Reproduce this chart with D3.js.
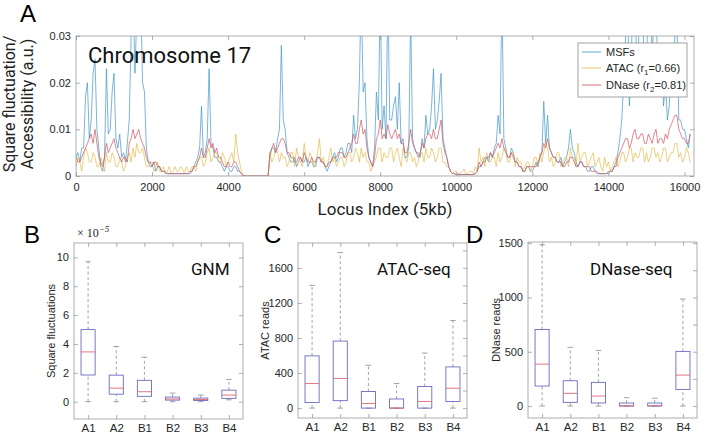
<!DOCTYPE html>
<html>
<head>
<meta charset="utf-8">
<script src="https://cdn.jsdelivr.net/npm/d3@7"></script>
<style>
  body { margin: 0; background: #fff; }
  svg { display: block; }
</style>
</head>
<body>
<svg width="702" height="435"></svg>
<script>
// ---------- data ----------
// panel A: values sampled every 50 loci (5kb bins), read off the figure
var locusStep = 50;
var msf = [
  0.004,0.005,0.003,0.006,0.006,0.017,0.020,0.008,0.012,0.022,0.025,0.010,0.006,0.002,0.001,0.004,0.023,0.009,0.010,0.018,
  0.022,0.008,0.006,0.009,0.004,0.005,0.003,0.007,0.012,0.030,0.040,0.022,0.035,0.040,0.040,0.020,0.018,0.006,0.003,0.002,
  0.002,0.003,0.001,0.002,0.002,0.001,0.001,0.0005,0.0005,0.0005,0.0005,0.0005,0.0005,0.0005,0.0005,0.0005,0.0005,0.0005,0.0005,0.0005,
  0.0005,0.001,0.002,0.003,0.004,0.006,0.015,0.004,0.005,0.008,0.023,0.007,0.006,0.004,0.004,0.003,0.003,0.002,0.001,0.002,
  0.002,0.001,0.001,0.002,0.002,0.001,0.001,0.0005,0,0,0,0,0,0,0,0,0,0,0,0,
  0,0,0.004,0.006,0.006,0.005,0.008,0.010,0.028,0.012,0.010,0.005,0.004,0.003,0.003,0.004,0.002,0.003,0.004,0.003,
  0.003,0.004,0.002,0.003,0.003,0.002,0.002,0.004,0.004,0.003,0.003,0.002,0.001,0.002,0.003,0.004,0.005,0.003,0.004,0.006,
  0.006,0.004,0.005,0.007,0.007,0.005,0.013,0.008,0.010,0.020,0.040,0.018,0.020,0.008,0.004,0.003,0.002,0.006,0.018,0.012,
  0.040,0.010,0.015,0.008,0.040,0.012,0.012,0.015,0.017,0.010,0.020,0.007,0.008,0.004,0.004,0.006,0.035,0.008,0.006,0.005,
  0.005,0.004,0.008,0.006,0.013,0.009,0.010,0.015,0.023,0.010,0.012,0.016,0.022,0.008,0.006,0.004,0.002,0.001,0.0005,0.0005,
  0.0003,0.0003,0.0003,0.0003,0.0003,0.0003,0.0003,0.0003,0.0003,0.0003,0.0005,0.001,0.002,0.002,0.003,0.004,0.004,0.003,0.005,0.004,
  0.006,0.007,0.013,0.009,0.040,0.008,0.006,0.004,0.004,0.006,0.005,0.003,0.003,0.002,0.002,0.001,0.001,0.002,0.002,0.001,
  0.001,0.002,0.003,0.002,0.004,0.005,0.016,0.007,0.013,0.006,0.005,0.004,0.004,0.003,0.003,0.004,0.002,0.003,0.004,0.006,
  0.010,0.006,0.005,0.003,0.002,0.003,0.003,0.002,0.002,0.001,0.001,0.002,0.002,0.001,0.0005,0.0005,0.0005,0.0005,0.0005,0.0005,
  0.0005,0.001,0.001,0.002,0.003,0.005,0.008,0.012,0.020,0.030,0.040,0.015,0.025,0.040,0.040,0.020,0.030,0.040,0.040,0.018,
  0.022,0.040,0.040,0.025,0.035,0.040,0.018,0.025,0.025,0.015,0.020,0.012,0.015,0.025,0.025,0.030,0.035,0.012,0.012,0.010,
  0.010,0.008,0.006,0.009];
var atac = [
  0.002,0.004,0.003,0.001,0.004,0.006,0.005,0.003,0.003,0.005,0.004,0.002,0.002,0.004,0.003,0.001,0.005,0.003,0.003,0.005,
  0.004,0.002,0.002,0.004,0.003,0.001,0.002,0.004,0.005,0.003,0.006,0.004,0.007,0.005,0.005,0.006,0.004,0.002,0.002,0.003,
  0.003,0.001,0.002,0.003,0.001,0.001,0.002,0.0005,0.001,0.002,0.0005,0.001,0.002,0.001,0.001,0.002,0.0015,0.0005,0.002,0.001,
  0.001,0.002,0.002,0.001,0.003,0.004,0.004,0.002,0.003,0.005,0.006,0.003,0.004,0.005,0.005,0.003,0.003,0.005,0.004,0.002,
  0.003,0.004,0.005,0.003,0.009,0.005,0.003,0.001,0.0005,0,0,0,0,0,0,0,0,0,0,0,
  0,0,0.005,0.003,0.004,0.006,0.005,0.003,0.005,0.004,0.004,0.002,0.003,0.005,0.005,0.002,0.006,0.004,0.003,0.002,
  0.007,0.004,0.003,0.005,0.004,0.002,0.003,0.005,0.008,0.003,0.004,0.002,0.002,0.004,0.006,0.003,0.004,0.002,0.003,0.004,
  0.004,0.002,0.003,0.005,0.005,0.003,0.004,0.006,0.005,0.003,0.006,0.004,0.005,0.003,0.003,0.001,0.002,0.003,0.004,0.006,
  0.006,0.003,0.005,0.004,0.004,0.006,0.006,0.003,0.005,0.006,0.004,0.002,0.006,0.004,0.003,0.005,0.005,0.003,0.004,0.002,
  0.003,0.005,0.005,0.003,0.006,0.004,0.004,0.006,0.005,0.003,0.004,0.006,0.006,0.003,0.003,0.002,0.002,0.001,0.0005,0.001,
  0.001,0.0005,0.0005,0.001,0.0015,0.0005,0.0005,0.001,0.001,0.0005,0.002,0.001,0.006,0.003,0.004,0.002,0.005,0.003,0.003,0.004,
  0.004,0.002,0.005,0.003,0.004,0.006,0.006,0.003,0.003,0.005,0.005,0.002,0.004,0.003,0.003,0.001,0.002,0.003,0.003,0.001,
  0.002,0.004,0.004,0.002,0.005,0.003,0.005,0.007,0.006,0.003,0.004,0.002,0.003,0.005,0.005,0.002,0.003,0.004,0.004,0.002,
  0.006,0.004,0.004,0.002,0.007,0.003,0.004,0.005,0.005,0.002,0.003,0.004,0.005,0.002,0.003,0.004,0.002,0.001,0.004,0.002,
  0.003,0.001,0.002,0.003,0.004,0.002,0.003,0.005,0.005,0.003,0.004,0.006,0.006,0.003,0.005,0.004,0.004,0.006,0.006,0.003,
  0.005,0.003,0.004,0.006,0.006,0.004,0.005,0.003,0.004,0.006,0.006,0.003,0.004,0.005,0.005,0.007,0.007,0.004,0.005,0.003,
  0.004,0.006,0.005,0.003];
var dnase = [
  0.004,0.003,0.003,0.004,0.005,0.006,0.007,0.008,0.009,0.007,0.010,0.007,0.004,0.003,0.002,0.004,0.007,0.005,0.006,0.007,
  0.008,0.006,0.005,0.004,0.003,0.004,0.004,0.003,0.007,0.008,0.010,0.008,0.009,0.010,0.008,0.007,0.006,0.004,0.003,0.003,
  0.002,0.003,0.003,0.002,0.002,0.001,0.001,0.001,0.0005,0.0005,0.0005,0.0005,0.0005,0.0005,0.0005,0.0005,0.0005,0.0005,0.0005,0.0005,
  0.001,0.001,0.002,0.002,0.003,0.004,0.006,0.004,0.004,0.006,0.008,0.006,0.007,0.005,0.006,0.004,0.004,0.003,0.002,0.002,
  0.003,0.002,0.002,0.003,0.003,0.002,0.001,0.0005,0,0,0,0,0,0,0,0,0,0,0,0,
  0,0,0.005,0.006,0.007,0.005,0.006,0.007,0.008,0.008,0.007,0.005,0.005,0.004,0.004,0.003,0.003,0.004,0.004,0.003,
  0.005,0.004,0.003,0.003,0.004,0.003,0.003,0.004,0.004,0.003,0.003,0.002,0.002,0.003,0.003,0.004,0.004,0.004,0.005,0.005,
  0.005,0.004,0.004,0.005,0.006,0.007,0.009,0.007,0.007,0.010,0.012,0.009,0.010,0.006,0.004,0.003,0.002,0.004,0.008,0.009,
  0.012,0.008,0.009,0.008,0.011,0.009,0.008,0.009,0.010,0.008,0.009,0.007,0.007,0.005,0.005,0.007,0.010,0.007,0.006,0.005,
  0.004,0.005,0.007,0.006,0.008,0.009,0.009,0.008,0.010,0.008,0.008,0.010,0.012,0.007,0.005,0.004,0.002,0.001,0.0005,0.0005,
  0.0003,0.0003,0.0003,0.0003,0.0003,0.0003,0.0003,0.0003,0.0003,0.0003,0.0005,0.001,0.003,0.002,0.003,0.003,0.004,0.004,0.005,0.004,
  0.005,0.006,0.007,0.006,0.008,0.006,0.005,0.004,0.004,0.005,0.004,0.003,0.003,0.002,0.002,0.001,0.001,0.002,0.002,0.002,
  0.002,0.002,0.002,0.003,0.004,0.005,0.007,0.006,0.008,0.006,0.005,0.004,0.004,0.003,0.003,0.003,0.002,0.002,0.003,0.003,
  0.004,0.004,0.003,0.002,0.002,0.003,0.003,0.002,0.002,0.002,0.002,0.001,0.001,0.001,0.001,0.0005,0.0005,0.0005,0.0005,0.0005,
  0.001,0.001,0.001,0.002,0.002,0.004,0.005,0.006,0.007,0.008,0.008,0.006,0.007,0.009,0.010,0.008,0.008,0.009,0.009,0.007,
  0.007,0.009,0.008,0.007,0.009,0.010,0.007,0.008,0.008,0.007,0.009,0.008,0.010,0.011,0.012,0.013,0.013,0.010,0.009,0.008,
  0.008,0.007,0.007,0.009];

var locusTicks = [0,2000,4000,6000,8000,10000,12000,14000,16000];
var accTicks = [0,0.01,0.02,0.03];

// panels B-D: [lower whisker, Q1, median, Q3, upper whisker]
var categories = ['A1','A2','B1','B2','B3','B4'];
var gnmBoxes = [[0,1.85,3.45,5.0,9.7],[0,0.52,0.94,1.84,3.83],[0,0.37,0.69,1.48,3.08],
  [0,0.11,0.19,0.32,0.6],[0,0.08,0.15,0.25,0.46],[0.13,0.23,0.46,0.8,1.54]];
var atacBoxes = [[0,64,280,596,1400],[0,85,338,765,1775],[0,0,53,189,488],
  [0,0,0,104,280],[0,0,76,246,628],[0,76,227,470,1000]];
var dnaseBoxes = [[0,184,386,705,1485],[0,34,117,233,540],[0,28,92,218,512],
  [0,0,3,28,77],[0,0,3,28,72],[0,153,285,503,985]];
var gnmTicks = [0,2,4,6,8,10];
var atacTicks = [0,400,800,1200,1600];
var dnaseTicks = [0,500,1000,1500];

// ---------- style ----------
var svg = d3.select('svg');
var axisColor = '#9a9a9a';
var textColor = '#262626';
var tickFont = '"Liberation Sans", Arial, sans-serif';
var titleFont = 'Roboto, "DejaVu Sans", sans-serif';
var colors = { msf: '#3b93c8', atac: '#e3b43a', dnase: '#cf4f5a' };

// MATLAB-like box: frame on all sides, inward ticks, labels left/bottom
function drawFrame(g, x, y, xTicks, yTicks, xFmt, yFmt, yMinor) {
  var x0 = x.range()[0], x1 = x.range()[1];
  var y0 = y.range()[0], y1 = y.range()[1];

  var bottom = g.append('g').attr('transform', 'translate(0,' + y0 + ')')
    .call(d3.axisBottom(x).tickValues(xTicks).tickFormat(xFmt)
      .tickSizeInner(-4).tickSizeOuter(0).tickPadding(7));
  var top = g.append('g').attr('transform', 'translate(0,' + y1 + ')')
    .call(d3.axisTop(x).tickValues(xTicks).tickFormat('')
      .tickSizeInner(-4).tickSizeOuter(0));
  var left = g.append('g').attr('transform', 'translate(' + x0 + ',0)')
    .call(d3.axisLeft(y).tickValues(yTicks).tickFormat(yFmt)
      .tickSizeInner(-4).tickSizeOuter(0).tickPadding(5));
  var right = g.append('g').attr('transform', 'translate(' + x1 + ',0)')
    .call(d3.axisRight(y).tickValues(yMinor || yTicks).tickFormat('')
      .tickSizeInner(-4).tickSizeOuter(0));

  [bottom, top, left, right].forEach(function (a) {
    a.select('.domain').remove();
    a.selectAll('line').attr('stroke', axisColor).attr('stroke-width', 0.8);
    a.selectAll('text').attr('fill', textColor)
      .style('font-family', tickFont).style('font-size', '11px');
  });

  g.append('rect')
    .attr('x', x0).attr('y', y1)
    .attr('width', x1 - x0).attr('height', y0 - y1)
    .attr('fill', 'none')
    .attr('stroke', axisColor)
    .attr('stroke-width', 0.8);
  return bottom;
}

//////////// PANEL A ////////////

var xA = d3.scaleLinear().domain([0, 16250]).range([76, 694]);
var yA = d3.scaleLinear().domain([0, 0.03]).range([176, 36]);

svg.append('clipPath').attr('id', 'clipA')
  .append('rect').attr('x', 76).attr('y', 36).attr('width', 618).attr('height', 140);

var lineA = d3.line()
  .x(function (d, i) { return xA(i * locusStep); })
  .y(function (d) { return yA(d); });

var gA = svg.append('g');
var series = [
  { key: 'msf', values: msf, w: 0.8, op: 0.85 },
  { key: 'atac', values: atac, w: 0.7, op: 0.9 },
  { key: 'dnase', values: dnase, w: 0.8, op: 0.85 }
];
gA.append('g').attr('clip-path', 'url(#clipA)')
  .selectAll('path')
  .data(series)
  .enter()
  .append('path')
  .attr('d', function (d) { return lineA(d.values); })
  .attr('fill', 'none')
  .attr('stroke', function (d) { return colors[d.key]; })
  .attr('stroke-width', function (d) { return d.w; })
  .attr('stroke-opacity', function (d) { return d.op; });

drawFrame(gA, xA, yA, locusTicks, accTicks, d3.format('d'),
  function (d) { return d === 0 ? '0' : d3.format('.2f')(d); });

gA.append('text').attr('x', 88).attr('y', 63)
  .style('font-family', titleFont).style('font-size', '22px')
  .attr('fill', '#111').text('Chromosome 17');

// legend
var leg = gA.append('g');
leg.append('rect').attr('x', 578).attr('y', 43).attr('width', 109).attr('height', 54)
  .attr('fill', '#fff').attr('stroke', '#8a8a8a').attr('stroke-width', 0.8);
var legItems = [
  { key: 'msf', y: 52, label: ['MSFs'] },
  { key: 'atac', y: 68, label: ['ATAC (r', '1', '=0.66)'] },
  { key: 'dnase', y: 85, label: ['DNase (r', '2', '=0.81)'] }
];
legItems.forEach(function (d) {
  leg.append('line').attr('x1', 582).attr('x2', 601).attr('y1', d.y).attr('y2', d.y)
    .attr('stroke', colors[d.key]).attr('stroke-width', 1).attr('stroke-opacity', 0.8);
  var t = leg.append('text').attr('x', 606).attr('y', d.y + 4)
    .style('font-family', tickFont).style('font-size', '11px').attr('fill', textColor);
  t.append('tspan').text(d.label[0]);
  if (d.label.length > 1) {
    t.append('tspan').attr('dy', 3).style('font-size', '8px').text(d.label[1]);
    t.append('tspan').attr('dy', -3).text(d.label[2]);
  }
});

// axis titles
svg.append('text').attr('x', 385).attr('y', 215).attr('text-anchor', 'middle')
  .style('font-family', titleFont).style('font-size', '17px').attr('fill', '#222')
  .text('Locus Index (5kb)');
var yTitle = svg.append('text').attr('transform', 'translate(15,104) rotate(-90)')
  .attr('text-anchor', 'middle')
  .style('font-family', titleFont).style('font-size', '16px').attr('fill', '#222');
yTitle.append('tspan').attr('x', 0).attr('y', 0).text('Square fluctuation/');
yTitle.append('tspan').attr('x', 0).attr('y', 18).text('Accessibility (a.u.)');

//////////// PANELS B-D ////////////

function drawBoxPanel(o) {
  var g = svg.append('g');
  var x = d3.scaleLinear().domain([0.5, 6.5]).range([o.left, o.right]);
  var y = d3.scaleLinear().domain(o.yDomain).range([o.bottom, o.top]);

  var boxes = g.selectAll('g.box')
    .data(o.data)
    .enter()
    .append('g')
    .attr('class', 'box');

  // dashed whiskers
  boxes.append('line')
    .attr('x1', function (d, i) { return x(i + 1); })
    .attr('x2', function (d, i) { return x(i + 1); })
    .attr('y1', function (d) { return y(d[3]); })
    .attr('y2', function (d) { return y(d[4]); });
  boxes.append('line')
    .attr('x1', function (d, i) { return x(i + 1); })
    .attr('x2', function (d, i) { return x(i + 1); })
    .attr('y1', function (d) { return y(d[0]); })
    .attr('y2', function (d) { return y(d[1]); });
  boxes.selectAll('line')
    .attr('stroke', '#8c8c8c').attr('stroke-width', 0.8).attr('stroke-dasharray', '3,2.5');

  // caps
  [0, 4].forEach(function (k) {
    boxes.append('line')
      .attr('x1', function (d, i) { return x(i + 1 - 0.1); })
      .attr('x2', function (d, i) { return x(i + 1 + 0.1); })
      .attr('y1', function (d) { return y(d[k]); })
      .attr('y2', function (d) { return y(d[k]); })
      .attr('stroke', '#8c8c8c').attr('stroke-width', 0.8);
  });

  boxes.append('rect')
    .attr('x', function (d, i) { return x(i + 1 - 0.25); })
    .attr('width', x(1.25) - x(0.75))
    .attr('y', function (d) { return y(d[3]); })
    .attr('height', function (d) { return Math.max(y(d[1]) - y(d[3]), 0.5); })
    .attr('fill', 'none').attr('stroke', '#6b6bc2').attr('stroke-width', 0.9);

  boxes.append('line')
    .attr('x1', function (d, i) { return x(i + 1 - 0.25); })
    .attr('x2', function (d, i) { return x(i + 1 + 0.25); })
    .attr('y1', function (d) { return y(d[2]); })
    .attr('y2', function (d) { return y(d[2]); })
    .attr('stroke', '#e0656e').attr('stroke-width', 0.9);

  var bottom = drawFrame(g, x, y, [1, 2, 3, 4, 5, 6], o.ticks,
    function (d) { return categories[d - 1]; }, d3.format('d'), o.minor);
  bottom.selectAll('text').style('font-size', '11.5px').attr('y', 5);

  g.append('text').attr('transform', 'translate(' + o.labelX + ',' + ((o.top + o.bottom) / 2) + ') rotate(-90)')
    .attr('text-anchor', 'middle')
    .style('font-family', tickFont).style('font-size', '11px').attr('fill', textColor)
    .text(o.yLabel);

  g.append('text').attr('x', o.titleX).attr('y', 275)
    .style('font-family', titleFont).style('font-size', '17px').attr('fill', '#111')
    .text(o.title);

  svg.append('text').attr('x', o.letterX).attr('y', 243)
    .style('font-family', tickFont).style('font-size', '24px').attr('fill', '#000')
    .text(o.letter);
  return g;
}

var gB = drawBoxPanel({ left: 74, right: 243, top: 243, bottom: 419,
  yDomain: [-1.2, 11], data: gnmBoxes, ticks: gnmTicks,
  yLabel: 'Square fluctuations', labelX: 55, title: 'GNM', titleX: 191,
  letter: 'B', letterX: 24 });
var expo = gB.append('text').attr('x', 77).attr('y', 237)
  .style('font-family', '"Liberation Serif", serif').style('font-size', '12px').attr('fill', textColor);
expo.append('tspan').text('\u00d7 10');
expo.append('tspan').attr('dy', -5).style('font-size', '9px').style('font-style', 'italic').text('\u22125');

drawBoxPanel({ left: 298, right: 467, top: 243, bottom: 418,
  yDomain: [-113, 1884], data: atacBoxes, ticks: atacTicks,
  minor: [0,200,400,600,800,1000,1200,1400,1600,1800],
  yLabel: 'ATAC reads', labelX: 269, title: 'ATAC-seq', titleX: 377,
  letter: 'C', letterX: 264 });

drawBoxPanel({ left: 528, right: 697, top: 242, bottom: 418,
  yDomain: [-110, 1510], data: dnaseBoxes, ticks: dnaseTicks,
  minor: [0,250,500,750,1000,1250,1500],
  yLabel: 'DNase reads', labelX: 500, title: 'DNase-seq', titleX: 590,
  letter: 'D', letterX: 466 });

svg.append('text').attr('x', 20).attr('y', 22)
  .style('font-family', tickFont).style('font-size', '24px').attr('fill', '#000')
  .text('A');
</script>
</body>
</html>
